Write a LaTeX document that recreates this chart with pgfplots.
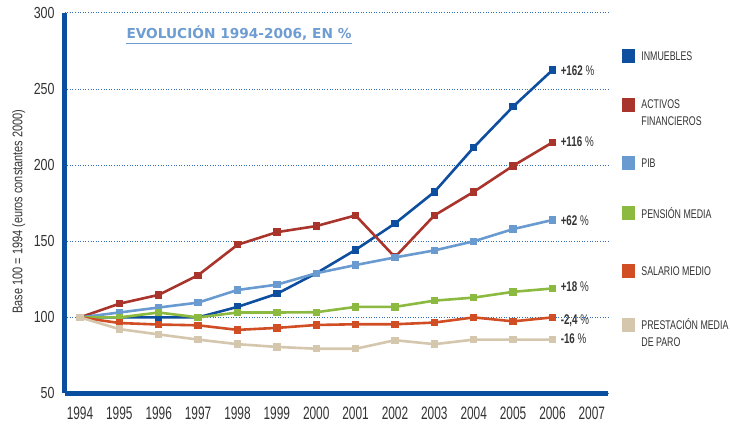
\documentclass[border=0pt]{standalone}
\usepackage{fontspec}
\setmainfont{Liberation Sans}
\newfontfamily\xtickfont[FakeStretch=0.66]{Liberation Sans}
\newfontfamily\ytickfont[FakeStretch=0.78]{Liberation Sans}
\newfontfamily\legfont[FakeStretch=0.70]{Liberation Sans}
\newfontfamily\titlefont{DejaVu Sans}
\usepackage{pgfplots}
\pgfplotsset{compat=1.18}

\definecolor{axisblue}{HTML}{0A4EA0}
\definecolor{gridblue}{HTML}{2F6FB8}
\definecolor{titleblue}{HTML}{6E9DD2}
\definecolor{txtgray}{HTML}{333333}
\definecolor{cInm}{HTML}{0D4E9E}
\definecolor{cAct}{HTML}{A9342B}
\definecolor{cPib}{HTML}{6A9BD0}
\definecolor{cPen}{HTML}{8CB940}
\definecolor{cSal}{HTML}{D14D24}
\definecolor{cPre}{HTML}{D4C7AD}

\tikzset{
  leg/.style={font=\legfont\fontsize{6.3}{8.5}\selectfont, text=txtgray, inner sep=0pt, anchor=west, align=left},
  sq/.style={fill=#1, draw=none, minimum width=6.5pt, minimum height=7pt, inner sep=0pt, anchor=west},
  endlab/.style={font=\legfont\fontsize{7}{7}\selectfont, text=txtgray, inner sep=0pt, anchor=west},
}

% x = years since 1994 (0 = 1994 ... 12 = 2006)
\begin{document}
\begin{tikzpicture}
\begin{axis}[
  name=ax,
  scale only axis,
  width=271.75pt, height=190.25pt,
  xmin=-0.393, xmax=13.41,
  ymin=50, ymax=300,
  axis x line=bottom, axis y line=left,
  axis line style={-, line width=2.5pt, draw=axisblue},
  xtick={0,...,13},
  xticklabels={1994,1995,1996,1997,1998,1999,2000,2001,2002,2003,2004,2005,2006,2007},
  ytick={50,100,...,300},
  ymajorgrids,
  grid style={draw=gridblue, line width=0.5pt, dash pattern=on 0.5pt off 0.8pt},
  major tick length=0pt,
  tick style={draw=none},
  /pgf/number format/assume math mode=true,
  xticklabel style={font=\xtickfont\fontsize{9}{9}\selectfont, text=txtgray, inner sep=0pt, anchor=north, yshift=-6.75pt},
  yticklabel style={font=\ytickfont\fontsize{8}{8}\selectfont, text=txtgray, inner sep=0pt, anchor=east, xshift=-4.75pt},
  clip=false,
  every axis plot/.append style={line width=1.3pt, mark=square*, mark size=1.2pt},
]
% INMUEBLES
\addplot[cInm] coordinates {(0,100) (1,100) (2,100) (3,100) (4,106.9) (5,115.5) (6,129) (7,144.4) (8,161.7) (9,182.4) (10,211.7) (11,238.5) (12,262.5)};
% ACTIVOS FINANCIEROS
\addplot[cAct] coordinates {(0,100) (1,109) (2,114.8) (3,127.7) (4,147.7) (5,156) (6,160) (7,167) (8,139.6) (9,167) (10,182.5) (11,199.6) (12,215)};
% PIB
\addplot[cPib] coordinates {(0,100) (1,103.2) (2,106.5) (3,109.7) (4,118) (5,121.5) (6,129) (7,134.4) (8,139.4) (9,144) (10,150) (11,158) (12,164)};
% PENSION MEDIA
\addplot[cPen] coordinates {(0,100) (1,100) (2,103.2) (3,100) (4,103.2) (5,103.2) (6,103.4) (7,106.9) (8,106.9) (9,111) (10,113) (11,116.8) (12,119)};
% SALARIO MEDIO
\addplot[cSal] coordinates {(0,100) (1,96.3) (2,95.3) (3,94.8) (4,91.8) (5,93.1) (6,95) (7,95.5) (8,95.5) (9,96.6) (10,100) (11,97.4) (12,100)};
% PRESTACION MEDIA DE PARO
\addplot[cPre] coordinates {(0,100) (1,92.3) (2,88.8) (3,85.4) (4,82.4) (5,80.6) (6,79.4) (7,79.4) (8,85) (9,82.4) (10,85.4) (11,85.4) (12,85.4)};

% title
\node[name=ttl, font=\titlefont\bfseries\fontsize{6.85}{7}\selectfont, text=titleblue, inner xsep=0pt, inner ysep=2.1pt, text depth=0pt, anchor=base]
  at (axis description cs:0.3211,0.9317) {EVOLUCIÓN 1994-2006, EN \%};
\draw[titleblue, line width=0.7pt] (ttl.south west) -- (ttl.south east);

% y label
\node[rotate=90, font=\ytickfont\fontsize{7}{7}\selectfont, text=txtgray, inner sep=0pt]
  at (axis description cs:-0.084,0.478) {Base 100 = 1994 (euros constantes 2000)};

% end labels
\node[endlab] at (axis cs:12.2,262.3) {{\bfseries +162} \%};
\node[endlab] at (axis cs:12.2,215.6) {{\bfseries +116} \%};
\node[endlab] at (axis cs:12.2,163.6) {{\bfseries +62} \%};
\node[endlab] at (axis cs:12.2,120) {{\bfseries +18} \%};
\node[endlab] at (axis cs:12.2,98) {{\bfseries -2,4} \%};
\node[endlab] at (axis cs:12.2,85.7) {{\bfseries -16} \%};

% legend
\node[sq=cInm] at (axis description cs:1.0258,0.887) {};
\node[leg] at (axis description cs:1.0607,0.887) {INMUEBLES};
\node[sq=cAct] at (axis description cs:1.0258,0.7582) {};
\node[leg] at (axis description cs:1.0607,0.7385) {ACTIVOS\\FINANCIEROS};
\node[sq=cPib] at (axis description cs:1.0258,0.6058) {};
\node[leg] at (axis description cs:1.0607,0.6058) {PIB};
\node[sq=cPen] at (axis description cs:1.0258,0.4744) {};
\node[leg] at (axis description cs:1.0607,0.4744) {PENSIÓN MEDIA};
\node[sq=cSal] at (axis description cs:1.0258,0.3219) {};
\node[leg] at (axis description cs:1.0607,0.3219) {SALARIO MEDIO};
\node[sq=cPre] at (axis description cs:1.0258,0.18) {};
\node[leg] at (axis description cs:1.0607,0.159) {PRESTACIÓN MEDIA\\DE PARO};
\end{axis}
\pgfresetboundingbox
\path[use as bounding box] ([shift={(-32.25pt,-16.25pt)}]ax.south west) rectangle ([shift={(332.75pt,196.75pt)}]ax.south west);
\end{tikzpicture}
\end{document}
